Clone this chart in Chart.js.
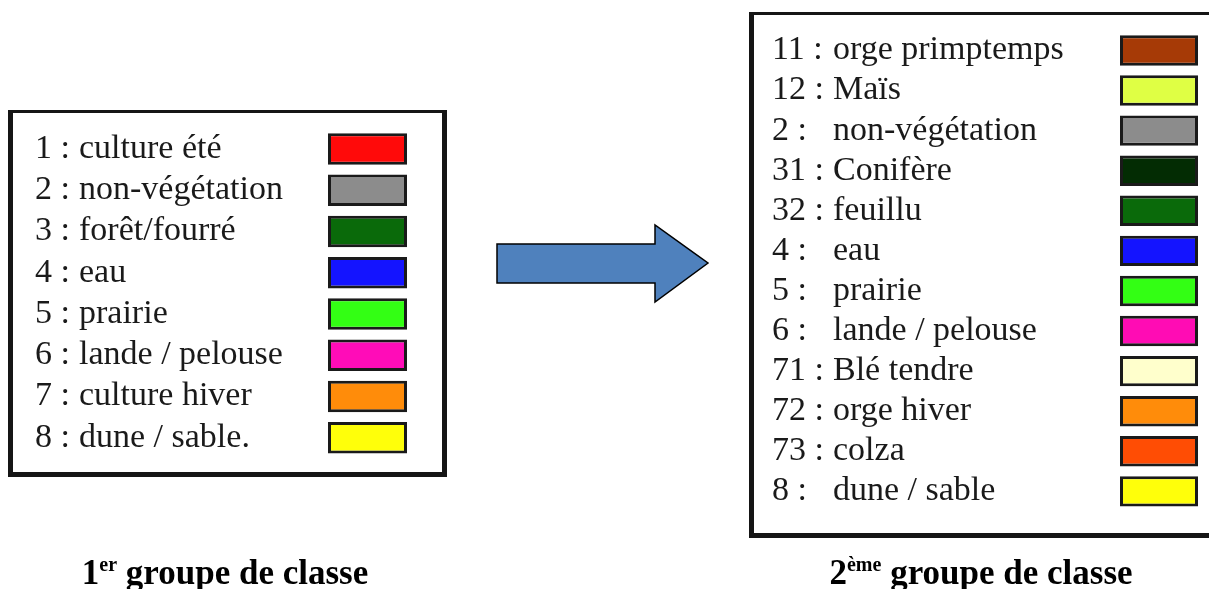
<!DOCTYPE html>
<html>
<head>
<meta charset="utf-8">
<script src="https://cdn.jsdelivr.net/npm/chart.js@4"></script>
<style>
	body { margin: 0; background: #fff; width: 1209px; height: 589px; overflow: hidden; position: relative; font-family: 'Liberation Serif', serif; }
	.frame { position: absolute; box-sizing: border-box; border: 5px solid #151515; border-top-width: 3px; background: #fff; }
	.chartbox { position: absolute; }
	.caption { position: absolute; font-weight: bold; font-size: 35px; line-height: 35px; color: #000; white-space: nowrap; transform: translateX(-50%); }
	.caption sup { font-size: 20px; vertical-align: 0; position: relative; top: -13px; }
	svg { position: absolute; left: 0; top: 0; }
</style>
</head>
<body>

<div class="frame" style="left:8px; top:110px; width:439px; height:367px;"></div>
<div class="frame" style="left:749px; top:12px; width:480px; height:526px;"></div>

<!-- chart boxes are taller by one label height: the y scale keeps half a label free above and below -->
<div class="chartbox" style="left:35px; top:107.6px; width:372px; height:370.8px;"><canvas id="groupe1"></canvas></div>
<div class="chartbox" style="left:772px; top:9.6px; width:426px; height:521.8px;"><canvas id="groupe2"></canvas></div>

<svg width="1209" height="589">
	<polygon points="497,244 655,244 655,225 708,263 655,302 655,283 497,283" fill="#4f81bd" stroke="#000" stroke-width="1.5" />
</svg>

<div class="caption" style="left:225px; top:555px;">1<sup>er</sup> groupe de classe</div>
<div class="caption" style="left:981px; top:555px;">2<sup>ème</sup> groupe de classe</div>

<script>
var codes1 = ['1 :', '2 :', '3 :', '4 :', '5 :', '6 :', '7 :', '8 :'];
var labels1 = ['culture été', 'non-végétation', 'forêt/fourré', 'eau', 'prairie', 'lande / pelouse', 'culture hiver', 'dune / sable.'];
var colors1 = ['#ff0a0a', '#8c8c8c', '#0a6a0a', '#1414ff', '#33ff14', '#ff0cb8', '#ff8c0a', '#ffff0a'];

var codes2 = ['11 :', '12 :', '2 :', '31 :', '32 :', '4 :', '5 :', '6 :', '71 :', '72 :', '73 :', '8 :'];
var labels2 = ['orge primptemps', 'Maïs', 'non-végétation', 'Conifère', 'feuillu', 'eau', 'prairie', 'lande / pelouse', 'Blé tendre', 'orge hiver', 'colza', 'dune / sable'];
var colors2 = ['#a63a06', '#dfff44', '#8c8c8c', '#032c03', '#0a6a0a', '#1414ff', '#33ff14', '#ff0cb4', '#ffffcc', '#ff8c0a', '#ff4d04', '#ffff0a'];

var swatch = [0, 1];

/*-----legend chart-----*/
function legendChart(id, codes, labels, colors, codeWidth, labelWidth) {
	var ctx = document.getElementById(id).getContext('2d');
	var tickFont = { family: 'Liberation Serif', size: 34 };
	return new Chart(ctx, {
		type: 'bar',
		data: {
			labels: labels,
			datasets: [{
				data: labels.map(function() { return swatch; }),
				backgroundColor: colors,
				borderColor: '#1a1a1a',
				borderWidth: 3,
				borderSkipped: false,
				barPercentage: 0.76,
				categoryPercentage: 1
			}]
		},
		options: {
			indexAxis: 'y',
			responsive: true,
			maintainAspectRatio: false,
			animation: false,
			layout: { padding: 0 },
			plugins: {
				legend: { display: false },
				tooltip: { enabled: false }
			},
			scales: {
				x: {
					display: false,
					min: 0,
					max: 1
				},
				y: {
					type: 'category',
					position: 'left',
					weight: 0,
					offset: true,
					grid: { display: false, drawTicks: false },
					border: { display: false },
					ticks: { crossAlign: 'far', autoSkip: false, padding: 0, color: '#1a1a1a', font: tickFont },
					afterFit: function(scale) { scale.width = labelWidth; }
				},
				codes: {
					type: 'category',
					axis: 'y',
					position: 'left',
					weight: 1,
					offset: true,
					labels: codes,
					grid: { display: false, drawTicks: false },
					border: { display: false },
					ticks: { crossAlign: 'far', autoSkip: false, padding: 0, color: '#1a1a1a', font: tickFont },
					afterFit: function(scale) { scale.width = codeWidth; }
				}
			}
		}
	});
}
/*-----legend chart-----*/

legendChart('groupe1', codes1, labels1, colors1, 44, 249);
legendChart('groupe2', codes2, labels2, colors2, 61, 287);
</script>
</body>
</html>
